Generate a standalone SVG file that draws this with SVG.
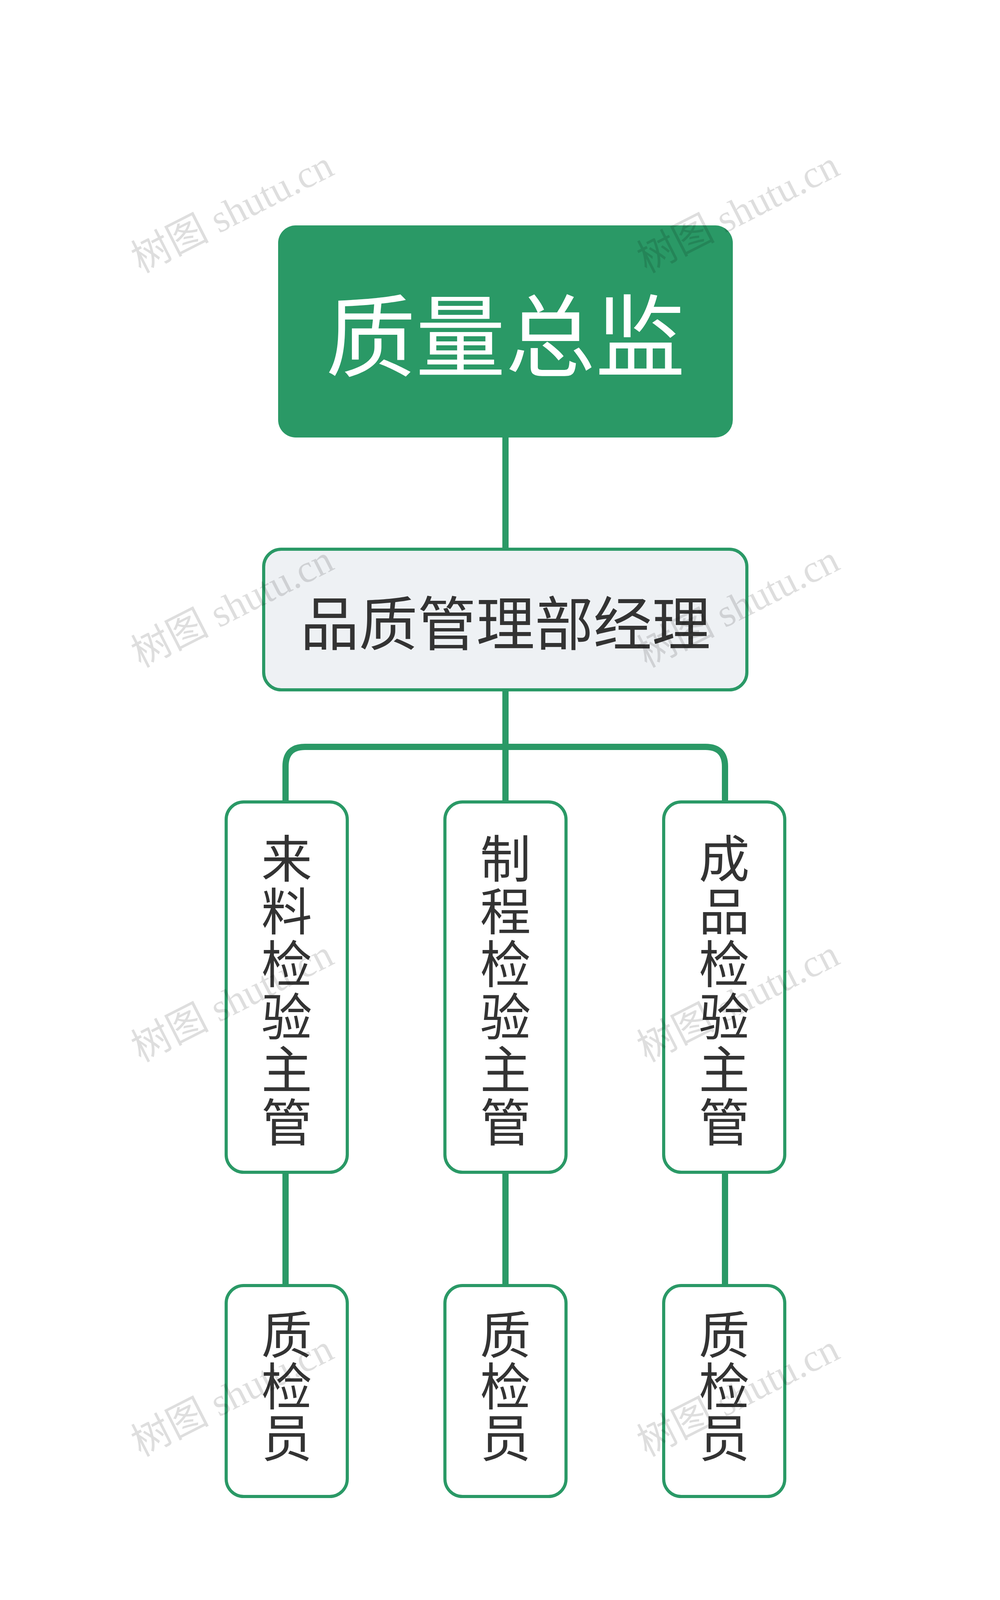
<svg xmlns="http://www.w3.org/2000/svg" width="2560" height="4365" viewBox="0 0 2560 4365">
<style>
.wm{font-family:"Liberation Serif","Noto Sans CJK SC",serif;font-size:100px;fill:#000;fill-opacity:0.13}
.box{fill:#fff;stroke:#2a9966;stroke-width:8}
.t{font-family:"Noto Sans CJK SC",sans-serif;font-size:130px;fill:#333;text-anchor:middle;dominant-baseline:central}
.c{fill:none;stroke:#2a9966;stroke-width:16}
</style>
<rect width="2560" height="4365" fill="#fff"/>
<g id="connectors">
<path class="c" d="M1294 1120V1406"/>
<path class="c" d="M1294 1766V2053"/>
<path class="c" d="M731 2053V1962Q731 1912 781 1912H1806Q1856 1912 1856 1962V2053"/>
<path class="c" d="M731 3001V3291M1294 3001V3291M1856 3001V3291"/>
</g>
<g id="root"><rect x="712" y="577" width="1164" height="543" rx="45" fill="#2a9966"/>
<text class="t" x="1294" y="845" style="font-size:230px;fill:#fff">质量总监</text></g>
<g id="manager"><rect class="box" x="675" y="1406" width="1237" height="360" rx="45" style="fill:#eef1f4"/>
<text class="t" x="1294" y="1586" style="font-size:150px">品质管理部经理</text></g>
<g id="s1"><rect class="box" x="579" y="2053" width="310" height="948" rx="45"/>
<text class="t" x="734" y="2189">来<tspan x="734" dy="135">料</tspan><tspan x="734" dy="135">检</tspan><tspan x="734" dy="135">验</tspan><tspan x="734" dy="135">主</tspan><tspan x="734" dy="135">管</tspan></text></g>
<g id="s2"><rect class="box" x="1139" y="2053" width="310" height="948" rx="45"/>
<text class="t" x="1294" y="2189">制<tspan x="1294" dy="135">程</tspan><tspan x="1294" dy="135">检</tspan><tspan x="1294" dy="135">验</tspan><tspan x="1294" dy="135">主</tspan><tspan x="1294" dy="135">管</tspan></text></g>
<g id="s3"><rect class="box" x="1699" y="2053" width="310" height="948" rx="45"/>
<text class="t" x="1854" y="2189">成<tspan x="1854" dy="135">品</tspan><tspan x="1854" dy="135">检</tspan><tspan x="1854" dy="135">验</tspan><tspan x="1854" dy="135">主</tspan><tspan x="1854" dy="135">管</tspan></text></g>
<g id="l1"><rect class="box" x="579" y="3291" width="310" height="540" rx="45"/>
<text class="t" x="734" y="3408">质<tspan x="734" dy="132">检</tspan><tspan x="734" dy="132">员</tspan></text></g>
<g id="l2"><rect class="box" x="1139" y="3291" width="310" height="540" rx="45"/>
<text class="t" x="1294" y="3408">质<tspan x="1294" dy="132">检</tspan><tspan x="1294" dy="132">员</tspan></text></g>
<g id="l3"><rect class="box" x="1699" y="3291" width="310" height="540" rx="45"/>
<text class="t" x="1854" y="3408">质<tspan x="1854" dy="132">检</tspan><tspan x="1854" dy="132">员</tspan></text></g>
<g id="watermarks">
<text class="wm" transform="translate(360,700) rotate(-27)">树图 shutu.cn</text>
<text class="wm" transform="translate(1655,700) rotate(-27)">树图 shutu.cn</text>
<text class="wm" transform="translate(360,1710) rotate(-27)">树图 shutu.cn</text>
<text class="wm" transform="translate(1655,1710) rotate(-27)">树图 shutu.cn</text>
<text class="wm" transform="translate(360,2720) rotate(-27)">树图 shutu.cn</text>
<text class="wm" transform="translate(1655,2720) rotate(-27)">树图 shutu.cn</text>
<text class="wm" transform="translate(360,3730) rotate(-27)">树图 shutu.cn</text>
<text class="wm" transform="translate(1655,3730) rotate(-27)">树图 shutu.cn</text>
</g>
</svg>
